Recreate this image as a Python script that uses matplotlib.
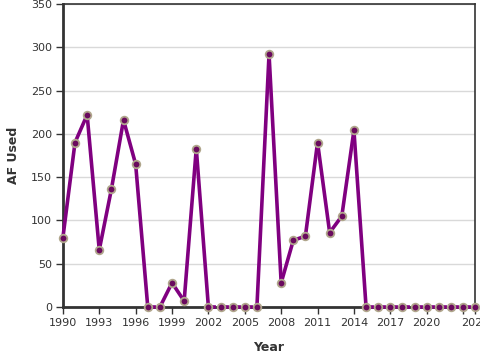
import matplotlib
matplotlib.use("Agg")
import matplotlib.pyplot as plt
import numpy as np

years = list(range(1990, 2025))
af_used = [80, 190, 222, 66, 136, 216, 165, 0, 0, 28, 7, 183, 0, 0, 0, 0, 0,
           292, 28, 77, 82, 190, 86, 105, 204,
           0, 0, 0, 0, 0, 0, 0, 0, 0, 0]
tick_years = [1990, 1993, 1996, 1999, 2002, 2005, 2008, 2011, 2014, 2017, 2020, 2023, 2024]
tick_labels = ["1990", "1993", "1996", "1999", "2002", "2005", "2008", "2011", "2014",
               "2017", "2020", "", "2024"]
y_ticks = [0, 50, 100, 150, 200, 250, 300, 350]

fig = plt.figure(figsize=(4.8, 3.6), dpi=100)
ax = fig.add_axes([0.131, 0.147, 0.859, 0.842])

line_color = "#800080"
x = np.array(years)
y = np.array(af_used)
for i in range(len(x) - 1):
    dashed = (y[i] == 0 and y[i + 1] == 0)
    ax.plot(x[i:i + 2], y[i:i + 2], color=line_color, lw=2.6,
            linestyle=(0, (2.2, 1.2)) if dashed else "-",
            solid_capstyle="round", zorder=3, clip_on=False)
ax.scatter(x, y, s=30, facecolor="#6a0a5e", edgecolor="#b0a68c", linewidth=1.3,
           zorder=4, clip_on=False)

ax.set_xlim(1990, 2024)
ax.set_ylim(0, 350)
ax.set_xticks(tick_years)
ax.set_xticklabels(tick_labels)
ax.set_yticks(y_ticks)
ax.yaxis.grid(True, color="#d9d9d9", lw=1)
ax.set_axisbelow(True)

for side in ["top", "right"]:
    ax.spines[side].set_color("#333333")
    ax.spines[side].set_linewidth(1.2)
for side in ["left", "bottom"]:
    ax.spines[side].set_color("#333333")
    ax.spines[side].set_linewidth(2)

ax.tick_params(colors="#333333", labelsize=8, length=5, width=1, pad=3)
ax.set_xlabel("Year", fontsize=9, fontweight="bold", color="#333333")
ax.set_ylabel("AF Used", fontsize=9, fontweight="bold", color="#333333")
ax.xaxis.set_label_coords(0.5, -0.112)
ax.yaxis.set_label_coords(-0.105, 0.5)

fig.savefig("out.png", dpi=100)
